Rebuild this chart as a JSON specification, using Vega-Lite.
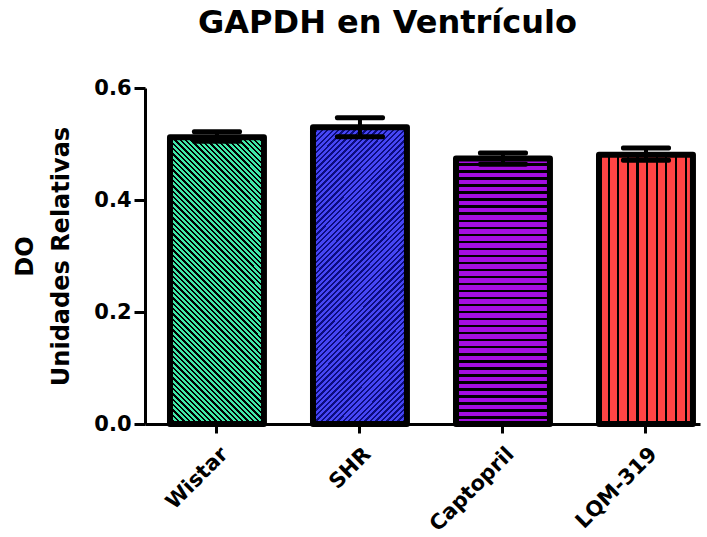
{
"$schema":"https://vega.github.io/schema/vega-lite/v6.json",
"width":555,"height":336,
"autosize":{"type":"none"},
"padding":{"left":145,"top":88,"right":7,"bottom":113},
"background":"white",
"config":{"view":{"stroke":null}},
"title":{"text":"GAPDH en Ventrículo","font":"DejaVu Sans","fontSize":32,"fontWeight":"bold","color":"black","anchor":"middle","frame":"group","dx":-35,"offset":37},
"data":{"values":[
{"group":"Wistar","mean":0.512,"lo":0.505,"hi":0.522},
{"group":"SHR","mean":0.530,"lo":0.513,"hi":0.547},
{"group":"Captopril","mean":0.474,"lo":0.464,"hi":0.484},
{"group":"LQM-319","mean":0.481,"lo":0.471,"hi":0.493}
]},
"encoding":{"x":{"field":"group","type":"nominal","scale":{"domain":["Wistar","SHR","Captopril","LQM-319"],"paddingInner":0.343,"paddingOuter":0.112,"align":0.78},
"axis":{"title":null,"labelAngle":-45,"labelAlign":"right","labelBaseline":"top","labelFont":"DejaVu Sans","labelFontSize":21,"labelFontWeight":"bold","labelColor":"black","tickColor":"black","tickWidth":3,"tickSize":9,"domainColor":"black","domainWidth":3,"labelPadding":10}}},
"layer":[
{"transform":[{"filter":"datum.group==='Wistar'"}],
"mark":{"type":"bar","stroke":"black","strokeWidth":6,"strokeJoin":"round","fill":{"gradient":"linear","x1":0,"y1":1,"x2":0.394,"y2":-0.199,"stops":[
{"offset":0,"color":"#000"},{"offset":0.006,"color":"#000"},{"offset":0.006,"color":"#40e8a8"},{"offset":0.014,"color":"#40e8a8"},
{"offset":0.014,"color":"#000"},{"offset":0.02,"color":"#000"},{"offset":0.02,"color":"#40e8a8"},{"offset":0.028,"color":"#40e8a8"},
{"offset":0.028,"color":"#000"},{"offset":0.034,"color":"#000"},{"offset":0.034,"color":"#40e8a8"},{"offset":0.042,"color":"#40e8a8"},
{"offset":0.042,"color":"#000"},{"offset":0.048,"color":"#000"},{"offset":0.048,"color":"#40e8a8"},{"offset":0.056,"color":"#40e8a8"},
{"offset":0.056,"color":"#000"},{"offset":0.062,"color":"#000"},{"offset":0.062,"color":"#40e8a8"},{"offset":0.07,"color":"#40e8a8"},
{"offset":0.07,"color":"#000"},{"offset":0.076,"color":"#000"},{"offset":0.076,"color":"#40e8a8"},{"offset":0.084,"color":"#40e8a8"},
{"offset":0.084,"color":"#000"},{"offset":0.09,"color":"#000"},{"offset":0.09,"color":"#40e8a8"},{"offset":0.098,"color":"#40e8a8"},
{"offset":0.098,"color":"#000"},{"offset":0.104,"color":"#000"},{"offset":0.104,"color":"#40e8a8"},{"offset":0.112,"color":"#40e8a8"},
{"offset":0.112,"color":"#000"},{"offset":0.118,"color":"#000"},{"offset":0.118,"color":"#40e8a8"},{"offset":0.126,"color":"#40e8a8"},
{"offset":0.126,"color":"#000"},{"offset":0.132,"color":"#000"},{"offset":0.132,"color":"#40e8a8"},{"offset":0.14,"color":"#40e8a8"},
{"offset":0.14,"color":"#000"},{"offset":0.146,"color":"#000"},{"offset":0.146,"color":"#40e8a8"},{"offset":0.154,"color":"#40e8a8"},
{"offset":0.154,"color":"#000"},{"offset":0.16,"color":"#000"},{"offset":0.16,"color":"#40e8a8"},{"offset":0.168,"color":"#40e8a8"},
{"offset":0.168,"color":"#000"},{"offset":0.174,"color":"#000"},{"offset":0.174,"color":"#40e8a8"},{"offset":0.182,"color":"#40e8a8"},
{"offset":0.182,"color":"#000"},{"offset":0.188,"color":"#000"},{"offset":0.188,"color":"#40e8a8"},{"offset":0.196,"color":"#40e8a8"},
{"offset":0.196,"color":"#000"},{"offset":0.202,"color":"#000"},{"offset":0.202,"color":"#40e8a8"},{"offset":0.21,"color":"#40e8a8"},
{"offset":0.21,"color":"#000"},{"offset":0.216,"color":"#000"},{"offset":0.216,"color":"#40e8a8"},{"offset":0.224,"color":"#40e8a8"},
{"offset":0.224,"color":"#000"},{"offset":0.23,"color":"#000"},{"offset":0.23,"color":"#40e8a8"},{"offset":0.238,"color":"#40e8a8"},
{"offset":0.238,"color":"#000"},{"offset":0.244,"color":"#000"},{"offset":0.244,"color":"#40e8a8"},{"offset":0.252,"color":"#40e8a8"},
{"offset":0.252,"color":"#000"},{"offset":0.258,"color":"#000"},{"offset":0.258,"color":"#40e8a8"},{"offset":0.266,"color":"#40e8a8"},
{"offset":0.266,"color":"#000"},{"offset":0.272,"color":"#000"},{"offset":0.272,"color":"#40e8a8"},{"offset":0.28,"color":"#40e8a8"},
{"offset":0.28,"color":"#000"},{"offset":0.286,"color":"#000"},{"offset":0.286,"color":"#40e8a8"},{"offset":0.294,"color":"#40e8a8"},
{"offset":0.294,"color":"#000"},{"offset":0.3,"color":"#000"},{"offset":0.3,"color":"#40e8a8"},{"offset":0.308,"color":"#40e8a8"},
{"offset":0.308,"color":"#000"},{"offset":0.314,"color":"#000"},{"offset":0.314,"color":"#40e8a8"},{"offset":0.322,"color":"#40e8a8"},
{"offset":0.322,"color":"#000"},{"offset":0.328,"color":"#000"},{"offset":0.328,"color":"#40e8a8"},{"offset":0.336,"color":"#40e8a8"},
{"offset":0.336,"color":"#000"},{"offset":0.342,"color":"#000"},{"offset":0.342,"color":"#40e8a8"},{"offset":0.35,"color":"#40e8a8"},
{"offset":0.35,"color":"#000"},{"offset":0.356,"color":"#000"},{"offset":0.356,"color":"#40e8a8"},{"offset":0.364,"color":"#40e8a8"},
{"offset":0.364,"color":"#000"},{"offset":0.37,"color":"#000"},{"offset":0.37,"color":"#40e8a8"},{"offset":0.378,"color":"#40e8a8"},
{"offset":0.378,"color":"#000"},{"offset":0.384,"color":"#000"},{"offset":0.384,"color":"#40e8a8"},{"offset":0.392,"color":"#40e8a8"},
{"offset":0.392,"color":"#000"},{"offset":0.398,"color":"#000"},{"offset":0.398,"color":"#40e8a8"},{"offset":0.406,"color":"#40e8a8"},
{"offset":0.406,"color":"#000"},{"offset":0.412,"color":"#000"},{"offset":0.412,"color":"#40e8a8"},{"offset":0.42,"color":"#40e8a8"},
{"offset":0.42,"color":"#000"},{"offset":0.426,"color":"#000"},{"offset":0.426,"color":"#40e8a8"},{"offset":0.434,"color":"#40e8a8"},
{"offset":0.434,"color":"#000"},{"offset":0.44,"color":"#000"},{"offset":0.44,"color":"#40e8a8"},{"offset":0.448,"color":"#40e8a8"},
{"offset":0.448,"color":"#000"},{"offset":0.454,"color":"#000"},{"offset":0.454,"color":"#40e8a8"},{"offset":0.462,"color":"#40e8a8"},
{"offset":0.462,"color":"#000"},{"offset":0.468,"color":"#000"},{"offset":0.468,"color":"#40e8a8"},{"offset":0.476,"color":"#40e8a8"},
{"offset":0.476,"color":"#000"},{"offset":0.482,"color":"#000"},{"offset":0.482,"color":"#40e8a8"},{"offset":0.49,"color":"#40e8a8"},
{"offset":0.49,"color":"#000"},{"offset":0.496,"color":"#000"},{"offset":0.496,"color":"#40e8a8"},{"offset":0.504,"color":"#40e8a8"},
{"offset":0.504,"color":"#000"},{"offset":0.51,"color":"#000"},{"offset":0.51,"color":"#40e8a8"},{"offset":0.518,"color":"#40e8a8"},
{"offset":0.518,"color":"#000"},{"offset":0.524,"color":"#000"},{"offset":0.524,"color":"#40e8a8"},{"offset":0.532,"color":"#40e8a8"},
{"offset":0.532,"color":"#000"},{"offset":0.538,"color":"#000"},{"offset":0.538,"color":"#40e8a8"},{"offset":0.546,"color":"#40e8a8"},
{"offset":0.546,"color":"#000"},{"offset":0.552,"color":"#000"},{"offset":0.552,"color":"#40e8a8"},{"offset":0.56,"color":"#40e8a8"},
{"offset":0.56,"color":"#000"},{"offset":0.566,"color":"#000"},{"offset":0.566,"color":"#40e8a8"},{"offset":0.574,"color":"#40e8a8"},
{"offset":0.574,"color":"#000"},{"offset":0.58,"color":"#000"},{"offset":0.58,"color":"#40e8a8"},{"offset":0.588,"color":"#40e8a8"},
{"offset":0.588,"color":"#000"},{"offset":0.594,"color":"#000"},{"offset":0.594,"color":"#40e8a8"},{"offset":0.602,"color":"#40e8a8"},
{"offset":0.602,"color":"#000"},{"offset":0.608,"color":"#000"},{"offset":0.608,"color":"#40e8a8"},{"offset":0.616,"color":"#40e8a8"},
{"offset":0.616,"color":"#000"},{"offset":0.622,"color":"#000"},{"offset":0.622,"color":"#40e8a8"},{"offset":0.63,"color":"#40e8a8"},
{"offset":0.63,"color":"#000"},{"offset":0.636,"color":"#000"},{"offset":0.636,"color":"#40e8a8"},{"offset":0.644,"color":"#40e8a8"},
{"offset":0.644,"color":"#000"},{"offset":0.65,"color":"#000"},{"offset":0.65,"color":"#40e8a8"},{"offset":0.658,"color":"#40e8a8"},
{"offset":0.658,"color":"#000"},{"offset":0.664,"color":"#000"},{"offset":0.664,"color":"#40e8a8"},{"offset":0.672,"color":"#40e8a8"},
{"offset":0.672,"color":"#000"},{"offset":0.678,"color":"#000"},{"offset":0.678,"color":"#40e8a8"},{"offset":0.686,"color":"#40e8a8"},
{"offset":0.686,"color":"#000"},{"offset":0.692,"color":"#000"},{"offset":0.692,"color":"#40e8a8"},{"offset":0.7,"color":"#40e8a8"},
{"offset":0.7,"color":"#000"},{"offset":0.706,"color":"#000"},{"offset":0.706,"color":"#40e8a8"},{"offset":0.714,"color":"#40e8a8"},
{"offset":0.714,"color":"#000"},{"offset":0.72,"color":"#000"},{"offset":0.72,"color":"#40e8a8"},{"offset":0.728,"color":"#40e8a8"},
{"offset":0.728,"color":"#000"},{"offset":0.734,"color":"#000"},{"offset":0.734,"color":"#40e8a8"},{"offset":0.742,"color":"#40e8a8"},
{"offset":0.742,"color":"#000"},{"offset":0.748,"color":"#000"},{"offset":0.748,"color":"#40e8a8"},{"offset":0.756,"color":"#40e8a8"},
{"offset":0.756,"color":"#000"},{"offset":0.762,"color":"#000"},{"offset":0.762,"color":"#40e8a8"},{"offset":0.77,"color":"#40e8a8"},
{"offset":0.77,"color":"#000"},{"offset":0.776,"color":"#000"},{"offset":0.776,"color":"#40e8a8"},{"offset":0.784,"color":"#40e8a8"},
{"offset":0.784,"color":"#000"},{"offset":0.79,"color":"#000"},{"offset":0.79,"color":"#40e8a8"},{"offset":0.798,"color":"#40e8a8"},
{"offset":0.798,"color":"#000"},{"offset":0.804,"color":"#000"},{"offset":0.804,"color":"#40e8a8"},{"offset":0.812,"color":"#40e8a8"},
{"offset":0.812,"color":"#000"},{"offset":0.818,"color":"#000"},{"offset":0.818,"color":"#40e8a8"},{"offset":0.826,"color":"#40e8a8"},
{"offset":0.826,"color":"#000"},{"offset":0.832,"color":"#000"},{"offset":0.832,"color":"#40e8a8"},{"offset":0.84,"color":"#40e8a8"},
{"offset":0.84,"color":"#000"},{"offset":0.846,"color":"#000"},{"offset":0.846,"color":"#40e8a8"},{"offset":0.854,"color":"#40e8a8"},
{"offset":0.854,"color":"#000"},{"offset":0.86,"color":"#000"},{"offset":0.86,"color":"#40e8a8"},{"offset":0.868,"color":"#40e8a8"},
{"offset":0.868,"color":"#000"},{"offset":0.874,"color":"#000"},{"offset":0.874,"color":"#40e8a8"},{"offset":0.882,"color":"#40e8a8"},
{"offset":0.882,"color":"#000"},{"offset":0.888,"color":"#000"},{"offset":0.888,"color":"#40e8a8"},{"offset":0.896,"color":"#40e8a8"},
{"offset":0.896,"color":"#000"},{"offset":0.902,"color":"#000"},{"offset":0.902,"color":"#40e8a8"},{"offset":0.91,"color":"#40e8a8"},
{"offset":0.91,"color":"#000"},{"offset":0.916,"color":"#000"},{"offset":0.916,"color":"#40e8a8"},{"offset":0.924,"color":"#40e8a8"},
{"offset":0.924,"color":"#000"},{"offset":0.93,"color":"#000"},{"offset":0.93,"color":"#40e8a8"},{"offset":0.938,"color":"#40e8a8"},
{"offset":0.938,"color":"#000"},{"offset":0.944,"color":"#000"},{"offset":0.944,"color":"#40e8a8"},{"offset":0.952,"color":"#40e8a8"},
{"offset":0.952,"color":"#000"},{"offset":0.958,"color":"#000"},{"offset":0.958,"color":"#40e8a8"},{"offset":0.966,"color":"#40e8a8"},
{"offset":0.966,"color":"#000"},{"offset":0.972,"color":"#000"},{"offset":0.972,"color":"#40e8a8"},{"offset":0.98,"color":"#40e8a8"},
{"offset":0.98,"color":"#000"},{"offset":0.986,"color":"#000"},{"offset":0.986,"color":"#40e8a8"},{"offset":0.994,"color":"#40e8a8"},
{"offset":0.994,"color":"#000"},{"offset":1,"color":"#000"}
]}},
"encoding":{"y":{"field":"mean","type":"quantitative","scale":{"domain":[0,0.6],"nice":false},
"axis":{"title":["DO","Unidades Relativas"],"titleFont":"DejaVu Sans","titleFontSize":24,"titleFontWeight":"bold","titleColor":"black","titleLineHeight":36,"titleBaseline":"middle","titleX":-120,"titleY":168,"titleAngle":-90,"values":[0,0.2,0.4,0.6],"format":".1f","labelFont":"DejaVu Sans","labelFontSize":21,"labelFontWeight":"bold","labelColor":"black","labelPadding":3,"tickColor":"black","tickWidth":3,"tickSize":11,"domainColor":"black","domainWidth":3,"grid":false}}}},
{"transform":[{"filter":"datum.group==='SHR'"}],
"mark":{"type":"bar","stroke":"black","strokeWidth":6,"strokeJoin":"round","fill":{"gradient":"linear","x1":0,"y1":0,"x2":0.38,"y2":1.197,"stops":[
{"offset":0,"color":"#0c0c80"},{"offset":0.006,"color":"#0c0c80"},{"offset":0.006,"color":"#4646f5"},{"offset":0.014,"color":"#4646f5"},
{"offset":0.014,"color":"#0c0c80"},{"offset":0.02,"color":"#0c0c80"},{"offset":0.02,"color":"#4646f5"},{"offset":0.028,"color":"#4646f5"},
{"offset":0.028,"color":"#0c0c80"},{"offset":0.034,"color":"#0c0c80"},{"offset":0.034,"color":"#4646f5"},{"offset":0.042,"color":"#4646f5"},
{"offset":0.042,"color":"#0c0c80"},{"offset":0.048,"color":"#0c0c80"},{"offset":0.048,"color":"#4646f5"},{"offset":0.056,"color":"#4646f5"},
{"offset":0.056,"color":"#0c0c80"},{"offset":0.062,"color":"#0c0c80"},{"offset":0.062,"color":"#4646f5"},{"offset":0.07,"color":"#4646f5"},
{"offset":0.07,"color":"#0c0c80"},{"offset":0.076,"color":"#0c0c80"},{"offset":0.076,"color":"#4646f5"},{"offset":0.084,"color":"#4646f5"},
{"offset":0.084,"color":"#0c0c80"},{"offset":0.09,"color":"#0c0c80"},{"offset":0.09,"color":"#4646f5"},{"offset":0.098,"color":"#4646f5"},
{"offset":0.098,"color":"#0c0c80"},{"offset":0.104,"color":"#0c0c80"},{"offset":0.104,"color":"#4646f5"},{"offset":0.112,"color":"#4646f5"},
{"offset":0.112,"color":"#0c0c80"},{"offset":0.118,"color":"#0c0c80"},{"offset":0.118,"color":"#4646f5"},{"offset":0.126,"color":"#4646f5"},
{"offset":0.126,"color":"#0c0c80"},{"offset":0.132,"color":"#0c0c80"},{"offset":0.132,"color":"#4646f5"},{"offset":0.14,"color":"#4646f5"},
{"offset":0.14,"color":"#0c0c80"},{"offset":0.146,"color":"#0c0c80"},{"offset":0.146,"color":"#4646f5"},{"offset":0.154,"color":"#4646f5"},
{"offset":0.154,"color":"#0c0c80"},{"offset":0.16,"color":"#0c0c80"},{"offset":0.16,"color":"#4646f5"},{"offset":0.168,"color":"#4646f5"},
{"offset":0.168,"color":"#0c0c80"},{"offset":0.174,"color":"#0c0c80"},{"offset":0.174,"color":"#4646f5"},{"offset":0.182,"color":"#4646f5"},
{"offset":0.182,"color":"#0c0c80"},{"offset":0.188,"color":"#0c0c80"},{"offset":0.188,"color":"#4646f5"},{"offset":0.196,"color":"#4646f5"},
{"offset":0.196,"color":"#0c0c80"},{"offset":0.202,"color":"#0c0c80"},{"offset":0.202,"color":"#4646f5"},{"offset":0.21,"color":"#4646f5"},
{"offset":0.21,"color":"#0c0c80"},{"offset":0.216,"color":"#0c0c80"},{"offset":0.216,"color":"#4646f5"},{"offset":0.224,"color":"#4646f5"},
{"offset":0.224,"color":"#0c0c80"},{"offset":0.23,"color":"#0c0c80"},{"offset":0.23,"color":"#4646f5"},{"offset":0.238,"color":"#4646f5"},
{"offset":0.238,"color":"#0c0c80"},{"offset":0.244,"color":"#0c0c80"},{"offset":0.244,"color":"#4646f5"},{"offset":0.252,"color":"#4646f5"},
{"offset":0.252,"color":"#0c0c80"},{"offset":0.258,"color":"#0c0c80"},{"offset":0.258,"color":"#4646f5"},{"offset":0.266,"color":"#4646f5"},
{"offset":0.266,"color":"#0c0c80"},{"offset":0.272,"color":"#0c0c80"},{"offset":0.272,"color":"#4646f5"},{"offset":0.28,"color":"#4646f5"},
{"offset":0.28,"color":"#0c0c80"},{"offset":0.286,"color":"#0c0c80"},{"offset":0.286,"color":"#4646f5"},{"offset":0.294,"color":"#4646f5"},
{"offset":0.294,"color":"#0c0c80"},{"offset":0.3,"color":"#0c0c80"},{"offset":0.3,"color":"#4646f5"},{"offset":0.308,"color":"#4646f5"},
{"offset":0.308,"color":"#0c0c80"},{"offset":0.314,"color":"#0c0c80"},{"offset":0.314,"color":"#4646f5"},{"offset":0.322,"color":"#4646f5"},
{"offset":0.322,"color":"#0c0c80"},{"offset":0.328,"color":"#0c0c80"},{"offset":0.328,"color":"#4646f5"},{"offset":0.336,"color":"#4646f5"},
{"offset":0.336,"color":"#0c0c80"},{"offset":0.342,"color":"#0c0c80"},{"offset":0.342,"color":"#4646f5"},{"offset":0.35,"color":"#4646f5"},
{"offset":0.35,"color":"#0c0c80"},{"offset":0.356,"color":"#0c0c80"},{"offset":0.356,"color":"#4646f5"},{"offset":0.364,"color":"#4646f5"},
{"offset":0.364,"color":"#0c0c80"},{"offset":0.37,"color":"#0c0c80"},{"offset":0.37,"color":"#4646f5"},{"offset":0.378,"color":"#4646f5"},
{"offset":0.378,"color":"#0c0c80"},{"offset":0.384,"color":"#0c0c80"},{"offset":0.384,"color":"#4646f5"},{"offset":0.392,"color":"#4646f5"},
{"offset":0.392,"color":"#0c0c80"},{"offset":0.398,"color":"#0c0c80"},{"offset":0.398,"color":"#4646f5"},{"offset":0.406,"color":"#4646f5"},
{"offset":0.406,"color":"#0c0c80"},{"offset":0.412,"color":"#0c0c80"},{"offset":0.412,"color":"#4646f5"},{"offset":0.42,"color":"#4646f5"},
{"offset":0.42,"color":"#0c0c80"},{"offset":0.426,"color":"#0c0c80"},{"offset":0.426,"color":"#4646f5"},{"offset":0.434,"color":"#4646f5"},
{"offset":0.434,"color":"#0c0c80"},{"offset":0.44,"color":"#0c0c80"},{"offset":0.44,"color":"#4646f5"},{"offset":0.448,"color":"#4646f5"},
{"offset":0.448,"color":"#0c0c80"},{"offset":0.454,"color":"#0c0c80"},{"offset":0.454,"color":"#4646f5"},{"offset":0.462,"color":"#4646f5"},
{"offset":0.462,"color":"#0c0c80"},{"offset":0.468,"color":"#0c0c80"},{"offset":0.468,"color":"#4646f5"},{"offset":0.476,"color":"#4646f5"},
{"offset":0.476,"color":"#0c0c80"},{"offset":0.482,"color":"#0c0c80"},{"offset":0.482,"color":"#4646f5"},{"offset":0.49,"color":"#4646f5"},
{"offset":0.49,"color":"#0c0c80"},{"offset":0.496,"color":"#0c0c80"},{"offset":0.496,"color":"#4646f5"},{"offset":0.504,"color":"#4646f5"},
{"offset":0.504,"color":"#0c0c80"},{"offset":0.51,"color":"#0c0c80"},{"offset":0.51,"color":"#4646f5"},{"offset":0.518,"color":"#4646f5"},
{"offset":0.518,"color":"#0c0c80"},{"offset":0.524,"color":"#0c0c80"},{"offset":0.524,"color":"#4646f5"},{"offset":0.532,"color":"#4646f5"},
{"offset":0.532,"color":"#0c0c80"},{"offset":0.538,"color":"#0c0c80"},{"offset":0.538,"color":"#4646f5"},{"offset":0.546,"color":"#4646f5"},
{"offset":0.546,"color":"#0c0c80"},{"offset":0.552,"color":"#0c0c80"},{"offset":0.552,"color":"#4646f5"},{"offset":0.56,"color":"#4646f5"},
{"offset":0.56,"color":"#0c0c80"},{"offset":0.566,"color":"#0c0c80"},{"offset":0.566,"color":"#4646f5"},{"offset":0.574,"color":"#4646f5"},
{"offset":0.574,"color":"#0c0c80"},{"offset":0.58,"color":"#0c0c80"},{"offset":0.58,"color":"#4646f5"},{"offset":0.588,"color":"#4646f5"},
{"offset":0.588,"color":"#0c0c80"},{"offset":0.594,"color":"#0c0c80"},{"offset":0.594,"color":"#4646f5"},{"offset":0.602,"color":"#4646f5"},
{"offset":0.602,"color":"#0c0c80"},{"offset":0.608,"color":"#0c0c80"},{"offset":0.608,"color":"#4646f5"},{"offset":0.616,"color":"#4646f5"},
{"offset":0.616,"color":"#0c0c80"},{"offset":0.622,"color":"#0c0c80"},{"offset":0.622,"color":"#4646f5"},{"offset":0.63,"color":"#4646f5"},
{"offset":0.63,"color":"#0c0c80"},{"offset":0.636,"color":"#0c0c80"},{"offset":0.636,"color":"#4646f5"},{"offset":0.644,"color":"#4646f5"},
{"offset":0.644,"color":"#0c0c80"},{"offset":0.65,"color":"#0c0c80"},{"offset":0.65,"color":"#4646f5"},{"offset":0.658,"color":"#4646f5"},
{"offset":0.658,"color":"#0c0c80"},{"offset":0.664,"color":"#0c0c80"},{"offset":0.664,"color":"#4646f5"},{"offset":0.672,"color":"#4646f5"},
{"offset":0.672,"color":"#0c0c80"},{"offset":0.678,"color":"#0c0c80"},{"offset":0.678,"color":"#4646f5"},{"offset":0.686,"color":"#4646f5"},
{"offset":0.686,"color":"#0c0c80"},{"offset":0.692,"color":"#0c0c80"},{"offset":0.692,"color":"#4646f5"},{"offset":0.7,"color":"#4646f5"},
{"offset":0.7,"color":"#0c0c80"},{"offset":0.706,"color":"#0c0c80"},{"offset":0.706,"color":"#4646f5"},{"offset":0.714,"color":"#4646f5"},
{"offset":0.714,"color":"#0c0c80"},{"offset":0.72,"color":"#0c0c80"},{"offset":0.72,"color":"#4646f5"},{"offset":0.728,"color":"#4646f5"},
{"offset":0.728,"color":"#0c0c80"},{"offset":0.734,"color":"#0c0c80"},{"offset":0.734,"color":"#4646f5"},{"offset":0.742,"color":"#4646f5"},
{"offset":0.742,"color":"#0c0c80"},{"offset":0.748,"color":"#0c0c80"},{"offset":0.748,"color":"#4646f5"},{"offset":0.756,"color":"#4646f5"},
{"offset":0.756,"color":"#0c0c80"},{"offset":0.762,"color":"#0c0c80"},{"offset":0.762,"color":"#4646f5"},{"offset":0.77,"color":"#4646f5"},
{"offset":0.77,"color":"#0c0c80"},{"offset":0.776,"color":"#0c0c80"},{"offset":0.776,"color":"#4646f5"},{"offset":0.784,"color":"#4646f5"},
{"offset":0.784,"color":"#0c0c80"},{"offset":0.79,"color":"#0c0c80"},{"offset":0.79,"color":"#4646f5"},{"offset":0.798,"color":"#4646f5"},
{"offset":0.798,"color":"#0c0c80"},{"offset":0.804,"color":"#0c0c80"},{"offset":0.804,"color":"#4646f5"},{"offset":0.812,"color":"#4646f5"},
{"offset":0.812,"color":"#0c0c80"},{"offset":0.818,"color":"#0c0c80"},{"offset":0.818,"color":"#4646f5"},{"offset":0.826,"color":"#4646f5"},
{"offset":0.826,"color":"#0c0c80"},{"offset":0.832,"color":"#0c0c80"},{"offset":0.832,"color":"#4646f5"},{"offset":0.84,"color":"#4646f5"},
{"offset":0.84,"color":"#0c0c80"},{"offset":0.846,"color":"#0c0c80"},{"offset":0.846,"color":"#4646f5"},{"offset":0.854,"color":"#4646f5"},
{"offset":0.854,"color":"#0c0c80"},{"offset":0.86,"color":"#0c0c80"},{"offset":0.86,"color":"#4646f5"},{"offset":0.868,"color":"#4646f5"},
{"offset":0.868,"color":"#0c0c80"},{"offset":0.874,"color":"#0c0c80"},{"offset":0.874,"color":"#4646f5"},{"offset":0.882,"color":"#4646f5"},
{"offset":0.882,"color":"#0c0c80"},{"offset":0.888,"color":"#0c0c80"},{"offset":0.888,"color":"#4646f5"},{"offset":0.896,"color":"#4646f5"},
{"offset":0.896,"color":"#0c0c80"},{"offset":0.902,"color":"#0c0c80"},{"offset":0.902,"color":"#4646f5"},{"offset":0.91,"color":"#4646f5"},
{"offset":0.91,"color":"#0c0c80"},{"offset":0.916,"color":"#0c0c80"},{"offset":0.916,"color":"#4646f5"},{"offset":0.924,"color":"#4646f5"},
{"offset":0.924,"color":"#0c0c80"},{"offset":0.93,"color":"#0c0c80"},{"offset":0.93,"color":"#4646f5"},{"offset":0.938,"color":"#4646f5"},
{"offset":0.938,"color":"#0c0c80"},{"offset":0.944,"color":"#0c0c80"},{"offset":0.944,"color":"#4646f5"},{"offset":0.952,"color":"#4646f5"},
{"offset":0.952,"color":"#0c0c80"},{"offset":0.958,"color":"#0c0c80"},{"offset":0.958,"color":"#4646f5"},{"offset":0.966,"color":"#4646f5"},
{"offset":0.966,"color":"#0c0c80"},{"offset":0.972,"color":"#0c0c80"},{"offset":0.972,"color":"#4646f5"},{"offset":0.98,"color":"#4646f5"},
{"offset":0.98,"color":"#0c0c80"},{"offset":0.986,"color":"#0c0c80"},{"offset":0.986,"color":"#4646f5"},{"offset":0.994,"color":"#4646f5"},
{"offset":0.994,"color":"#0c0c80"},{"offset":1,"color":"#0c0c80"}
]}},
"encoding":{"y":{"field":"mean","type":"quantitative"}}},
{"transform":[{"filter":"datum.group==='Captopril'"}],
"mark":{"type":"bar","stroke":"black","strokeWidth":6,"strokeJoin":"round","fill":{"gradient":"linear","x1":0,"y1":0,"x2":0,"y2":1,"stops":[
{"offset":0,"color":"#a40ee0"},{"offset":0.0177,"color":"#a40ee0"},{"offset":0.0177,"color":"#000"},{"offset":0.0265,"color":"#000"},
{"offset":0.0265,"color":"#a40ee0"},{"offset":0.0442,"color":"#a40ee0"},{"offset":0.0442,"color":"#000"},{"offset":0.053,"color":"#000"},
{"offset":0.053,"color":"#a40ee0"},{"offset":0.0707,"color":"#a40ee0"},{"offset":0.0707,"color":"#000"},{"offset":0.0795,"color":"#000"},
{"offset":0.0795,"color":"#a40ee0"},{"offset":0.0972,"color":"#a40ee0"},{"offset":0.0972,"color":"#000"},{"offset":0.106,"color":"#000"},
{"offset":0.106,"color":"#a40ee0"},{"offset":0.1237,"color":"#a40ee0"},{"offset":0.1237,"color":"#000"},{"offset":0.1325,"color":"#000"},
{"offset":0.1325,"color":"#a40ee0"},{"offset":0.1502,"color":"#a40ee0"},{"offset":0.1502,"color":"#000"},{"offset":0.159,"color":"#000"},
{"offset":0.159,"color":"#a40ee0"},{"offset":0.1767,"color":"#a40ee0"},{"offset":0.1767,"color":"#000"},{"offset":0.1855,"color":"#000"},
{"offset":0.1855,"color":"#a40ee0"},{"offset":0.2032,"color":"#a40ee0"},{"offset":0.2032,"color":"#000"},{"offset":0.212,"color":"#000"},
{"offset":0.212,"color":"#a40ee0"},{"offset":0.2297,"color":"#a40ee0"},{"offset":0.2297,"color":"#000"},{"offset":0.2385,"color":"#000"},
{"offset":0.2385,"color":"#a40ee0"},{"offset":0.2562,"color":"#a40ee0"},{"offset":0.2562,"color":"#000"},{"offset":0.265,"color":"#000"},
{"offset":0.265,"color":"#a40ee0"},{"offset":0.2827,"color":"#a40ee0"},{"offset":0.2827,"color":"#000"},{"offset":0.2915,"color":"#000"},
{"offset":0.2915,"color":"#a40ee0"},{"offset":0.3092,"color":"#a40ee0"},{"offset":0.3092,"color":"#000"},{"offset":0.318,"color":"#000"},
{"offset":0.318,"color":"#a40ee0"},{"offset":0.3357,"color":"#a40ee0"},{"offset":0.3357,"color":"#000"},{"offset":0.3445,"color":"#000"},
{"offset":0.3445,"color":"#a40ee0"},{"offset":0.3622,"color":"#a40ee0"},{"offset":0.3622,"color":"#000"},{"offset":0.371,"color":"#000"},
{"offset":0.371,"color":"#a40ee0"},{"offset":0.3887,"color":"#a40ee0"},{"offset":0.3887,"color":"#000"},{"offset":0.3975,"color":"#000"},
{"offset":0.3975,"color":"#a40ee0"},{"offset":0.4152,"color":"#a40ee0"},{"offset":0.4152,"color":"#000"},{"offset":0.424,"color":"#000"},
{"offset":0.424,"color":"#a40ee0"},{"offset":0.4417,"color":"#a40ee0"},{"offset":0.4417,"color":"#000"},{"offset":0.4505,"color":"#000"},
{"offset":0.4505,"color":"#a40ee0"},{"offset":0.4682,"color":"#a40ee0"},{"offset":0.4682,"color":"#000"},{"offset":0.477,"color":"#000"},
{"offset":0.477,"color":"#a40ee0"},{"offset":0.4947,"color":"#a40ee0"},{"offset":0.4947,"color":"#000"},{"offset":0.5035,"color":"#000"},
{"offset":0.5035,"color":"#a40ee0"},{"offset":0.5212,"color":"#a40ee0"},{"offset":0.5212,"color":"#000"},{"offset":0.53,"color":"#000"},
{"offset":0.53,"color":"#a40ee0"},{"offset":0.5477,"color":"#a40ee0"},{"offset":0.5477,"color":"#000"},{"offset":0.5565,"color":"#000"},
{"offset":0.5565,"color":"#a40ee0"},{"offset":0.5742,"color":"#a40ee0"},{"offset":0.5742,"color":"#000"},{"offset":0.583,"color":"#000"},
{"offset":0.583,"color":"#a40ee0"},{"offset":0.6007,"color":"#a40ee0"},{"offset":0.6007,"color":"#000"},{"offset":0.6095,"color":"#000"},
{"offset":0.6095,"color":"#a40ee0"},{"offset":0.6272,"color":"#a40ee0"},{"offset":0.6272,"color":"#000"},{"offset":0.636,"color":"#000"},
{"offset":0.636,"color":"#a40ee0"},{"offset":0.6537,"color":"#a40ee0"},{"offset":0.6537,"color":"#000"},{"offset":0.6625,"color":"#000"},
{"offset":0.6625,"color":"#a40ee0"},{"offset":0.6802,"color":"#a40ee0"},{"offset":0.6802,"color":"#000"},{"offset":0.689,"color":"#000"},
{"offset":0.689,"color":"#a40ee0"},{"offset":0.7067,"color":"#a40ee0"},{"offset":0.7067,"color":"#000"},{"offset":0.7155,"color":"#000"},
{"offset":0.7155,"color":"#a40ee0"},{"offset":0.7332,"color":"#a40ee0"},{"offset":0.7332,"color":"#000"},{"offset":0.742,"color":"#000"},
{"offset":0.742,"color":"#a40ee0"},{"offset":0.7597,"color":"#a40ee0"},{"offset":0.7597,"color":"#000"},{"offset":0.7685,"color":"#000"},
{"offset":0.7685,"color":"#a40ee0"},{"offset":0.7862,"color":"#a40ee0"},{"offset":0.7862,"color":"#000"},{"offset":0.795,"color":"#000"},
{"offset":0.795,"color":"#a40ee0"},{"offset":0.8127,"color":"#a40ee0"},{"offset":0.8127,"color":"#000"},{"offset":0.8215,"color":"#000"},
{"offset":0.8215,"color":"#a40ee0"},{"offset":0.8392,"color":"#a40ee0"},{"offset":0.8392,"color":"#000"},{"offset":0.848,"color":"#000"},
{"offset":0.848,"color":"#a40ee0"},{"offset":0.8657,"color":"#a40ee0"},{"offset":0.8657,"color":"#000"},{"offset":0.8745,"color":"#000"},
{"offset":0.8745,"color":"#a40ee0"},{"offset":0.8922,"color":"#a40ee0"},{"offset":0.8922,"color":"#000"},{"offset":0.901,"color":"#000"},
{"offset":0.901,"color":"#a40ee0"},{"offset":0.9187,"color":"#a40ee0"},{"offset":0.9187,"color":"#000"},{"offset":0.9275,"color":"#000"},
{"offset":0.9275,"color":"#a40ee0"},{"offset":0.9452,"color":"#a40ee0"},{"offset":0.9452,"color":"#000"},{"offset":0.954,"color":"#000"},
{"offset":0.954,"color":"#a40ee0"},{"offset":0.9717,"color":"#a40ee0"},{"offset":0.9717,"color":"#000"},{"offset":0.9805,"color":"#000"},
{"offset":0.9805,"color":"#a40ee0"},{"offset":1,"color":"#a40ee0"}
]}},
"encoding":{"y":{"field":"mean","type":"quantitative"}}},
{"transform":[{"filter":"datum.group==='LQM-319'"}],
"mark":{"type":"bar","stroke":"black","strokeWidth":6,"strokeJoin":"round","fill":{"gradient":"linear","x1":0,"y1":0,"x2":1,"y2":0,"stops":[
{"offset":0,"color":"#ff4444"},{"offset":0.0915,"color":"#ff4444"},{"offset":0.0915,"color":"#000"},{"offset":0.1135,"color":"#000"},
{"offset":0.1135,"color":"#ff4444"},{"offset":0.194,"color":"#ff4444"},{"offset":0.194,"color":"#000"},{"offset":0.216,"color":"#000"},
{"offset":0.216,"color":"#ff4444"},{"offset":0.2965,"color":"#ff4444"},{"offset":0.2965,"color":"#000"},{"offset":0.3185,"color":"#000"},
{"offset":0.3185,"color":"#ff4444"},{"offset":0.399,"color":"#ff4444"},{"offset":0.399,"color":"#000"},{"offset":0.421,"color":"#000"},
{"offset":0.421,"color":"#ff4444"},{"offset":0.5015,"color":"#ff4444"},{"offset":0.5015,"color":"#000"},{"offset":0.5235,"color":"#000"},
{"offset":0.5235,"color":"#ff4444"},{"offset":0.604,"color":"#ff4444"},{"offset":0.604,"color":"#000"},{"offset":0.626,"color":"#000"},
{"offset":0.626,"color":"#ff4444"},{"offset":0.7065,"color":"#ff4444"},{"offset":0.7065,"color":"#000"},{"offset":0.7285,"color":"#000"},
{"offset":0.7285,"color":"#ff4444"},{"offset":0.809,"color":"#ff4444"},{"offset":0.809,"color":"#000"},{"offset":0.831,"color":"#000"},
{"offset":0.831,"color":"#ff4444"},{"offset":0.9115,"color":"#ff4444"},{"offset":0.9115,"color":"#000"},{"offset":0.9335,"color":"#000"},
{"offset":0.9335,"color":"#ff4444"},{"offset":1,"color":"#ff4444"}
]}},
"encoding":{"y":{"field":"mean","type":"quantitative"}}},
{"mark":{"type":"rule","strokeWidth":4,"color":"black"},
"encoding":{"y":{"field":"lo","type":"quantitative"},"y2":{"field":"hi"}}},
{"mark":{"type":"tick","thickness":5,"color":"black","opacity":1,"cornerRadius":2},
"encoding":{"y":{"field":"hi","type":"quantitative"},"size":{"value":50}}},
{"mark":{"type":"tick","thickness":5,"color":"black","opacity":1,"cornerRadius":2},
"encoding":{"y":{"field":"lo","type":"quantitative"},"size":{"value":50}}}
]
}
